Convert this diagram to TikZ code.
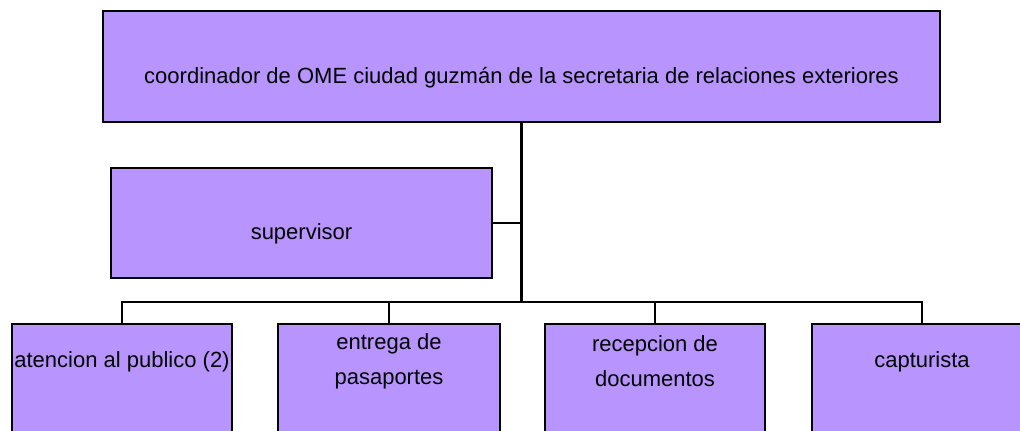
\documentclass[tikz,border=0pt]{standalone}
\usepackage{fontspec}
\setmainfont{Liberation Sans}
\definecolor{boxpurple}{RGB}{184,148,255}
\begin{document}
\begin{tikzpicture}[x=1pt, y=-1pt]
    % 定义样式
    \tikzstyle{box}=[draw=black, line width=2.5pt, fill=boxpurple, inner sep=0pt]
    \tikzstyle{txt}=[font=\fontsize{22}{35}\selectfont, align=center, inner sep=0pt]
    \tikzstyle{link}=[line width=2.5pt, black]

    % 画布大小 (与原图同比例)
    \useasboundingbox (0,0) rectangle (1020,431);
    \clip (0,0) rectangle (1020,431);

    % 1. 顶层方框
    \node[box, minimum width=837pt, minimum height=111pt,
          label={[txt, yshift=-11pt]center:coordinador de OME ciudad guzmán de la secretaria de relaciones exteriores}]
          (coord) at (521.5, 66.5) {};

    % 2. 副层方框
    \node[box, minimum width=381pt, minimum height=110pt,
          label={[txt, yshift=-11pt]center:supervisor}] (sup) at (301.5, 223) {};

    % 3. 底层四个方框 (下边被画布截去)
    \node[box, minimum width=220pt, minimum height=111pt,
          label={[txt, yshift=18pt]center:atencion al publico (2)}] (b1) at (122, 379.5) {};
    \node[box, minimum width=222pt, minimum height=111pt,
          label={[txt, yshift=18pt]center:entrega de\\pasaportes}] (b2) at (389, 379.5) {};
    \node[box, minimum width=220pt, minimum height=111pt,
          label={[txt, yshift=18pt]center:recepcion de\\documentos}] (b3) at (655, 379.5) {};
    \node[box, minimum width=220pt, minimum height=111pt,
          label={[txt, yshift=18pt]center:capturista}] (b4) at (922, 379.5) {};

    % 4. 连线
    \coordinate (bus) at (0, 302);
    \draw[link] (coord.south) -- (coord.south |- bus);
    \draw[link, line width=2pt] (sup.east) -- (sup.east -| coord.south);
    \draw[link] (b1.north) |- (b4.north |- bus) -- (b4.north);
    \draw[link, line width=2pt] (b2.north) -- (b2.north |- bus);
    \draw[link, line width=2pt] (b3.north) -- (b3.north |- bus);

\end{tikzpicture}
\end{document}
